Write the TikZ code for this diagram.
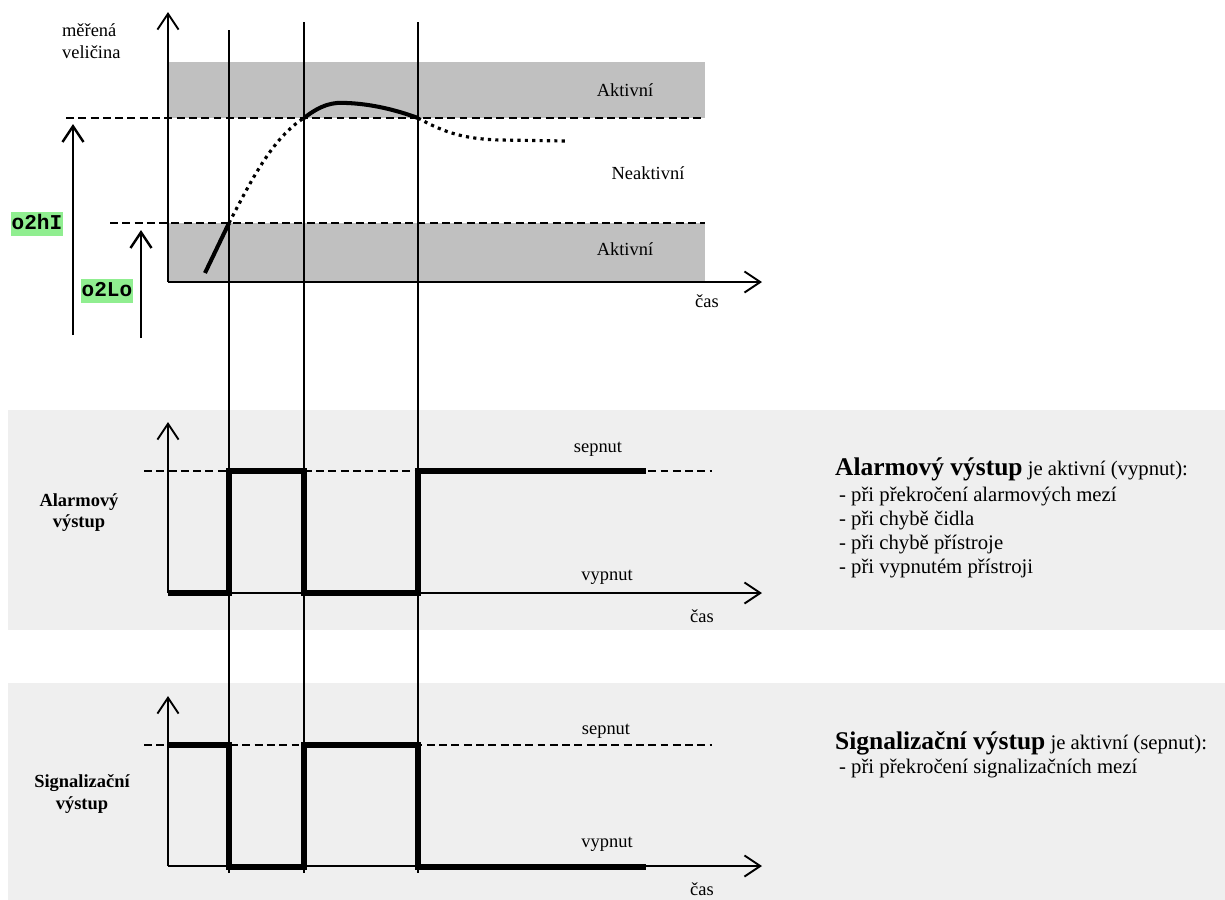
\documentclass[tikz,border=0pt]{standalone}
\usepackage{fontspec}
\setmainfont{Liberation Serif}
\setmonofont{Liberation Mono}
\usetikzlibrary{arrows.meta}
\definecolor{limitgreen}{RGB}{144,238,144}
\definecolor{bandgray}{RGB}{192,192,192}
\definecolor{panelgray}{RGB}{239,239,239}
\tikzset{%
  timeaxis/.style  = {line width=1.1pt,%
                      -{Straight Barb[length=9pt,width=12pt]}},%
  limitarrow/.style= {line width=1.4pt,%
                      -{Straight Barb[length=9pt,width=12pt]}},%
  limitline/.style = {line width=0.7pt, dash pattern=on 4.5pt off 2.5pt},%
  marker/.style    = {line width=0.6pt},%
  outsignal/.style = {line width=3pt, line join=miter},%
  curve/.style     = {line width=2.3pt},%
  trend/.style     = {line width=1.8pt, dash pattern=on 1.8pt off 2.4pt},%
  limitname/.style = {fill=limitgreen, inner xsep=0.5pt, inner ysep=1pt,%
                      text height=9pt, text depth=3pt,%
                      font=\ttfamily\bfseries\fontsize{12}{12}\selectfont},%
  outname/.style   = {align=center, font=\bfseries\fontsize{10.5}{12}\selectfont},%
  headline/.style  = {anchor=base west, font=\fontsize{11.8}{13.6}\selectfont},%
  itemline/.style  = {anchor=base west, font=\fontsize{11.8}{13.6}\selectfont}%
}
\begin{document}
\begin{tikzpicture}[x=0.02cm,y=-0.02cm,
	every node/.style = {font=\fontsize{10.5}{12.5}\selectfont, inner sep=1pt}]
	\useasboundingbox (0,0) rectangle (1225,900);
	\fill[panelgray] (8,410) rectangle (1225,630);
	\fill[panelgray] (8,683) rectangle (1225,900);
	\begin{scope}
		\fill[bandgray] (168,62) rectangle (705,118);
		\fill[bandgray] (168,223) rectangle (705,281);
		\coordinate (o1) at (168,282);
		\coordinate (hiL) at (66,118);
		\coordinate (hiR) at (705,118);
		\coordinate (loL) at (110,223);
		\coordinate (loR) at (705,223);
		\draw[limitline] (hiL) -- (hiR);
		\draw[limitline] (loL) -- (loR);
		\draw[timeaxis] (o1) -- (168,12);
		\draw[timeaxis] (o1) -- (762,282);
		\node (act1) at (625,90) {Aktivní};
		\node (act2) at (625,249) {Aktivní};
		\node (neakt) at (648,173) {Neaktivní};
		\node[anchor=west, align=left] (qty) at (60,41) {měřená\\veličina};
		\node (cas1) at (707,301) {čas};
		\node[limitname] (hiname) at (37,224) {o2hI};
		\node[limitname] (loname) at (107,291) {o2Lo};
		\draw[limitarrow] (73,335) -- (73,124);
		\draw[limitarrow] (141,338) -- (141,230);
		\coordinate (up) at (229,223);
		\coordinate (in) at (304,118);
		\coordinate (out) at (418,118);
		\draw[curve] (205,273) -- (up);
		\draw[trend] (up) .. controls (250,183) and (272,138) .. (in);
		\draw[curve] (in) .. controls (322,104) and (334,102) .. (347,103)
			.. controls (372,104) and (396,110) .. (out);
		\draw[trend] (out) .. controls (445,133) and (465,139) .. (500,140) -- (567,141);
	\end{scope}
	\foreach \x/\t in {229/30,304/22,418/22}
		\draw[marker] (\x,\t) -- (\x,873);
	\begin{scope}
		\coordinate (o2) at (168,593);
		\draw[limitline] (144,471) -- (712,471);
		\draw[timeaxis] (o2) -- (168,422);
		\draw[timeaxis] (o2) -- (762,593);
		\draw[outsignal] (o2) -- (229,593) -- (229,471) -- (304,471) -- (304,593)
			-- (418,593) -- (418,471) -- (646,471);
		\node (sep2) at (598,449) {sepnut};
		\node (vyp2) at (607,577) {vypnut};
		\node (cas2) at (702,616) {čas};
		\node[outname] (alarm) at (79,513) {Alarmový\\výstup};
	\end{scope}
	\begin{scope}
		\coordinate (o3) at (168,866);
		\draw[limitline] (144,745) -- (712,745);
		\draw[timeaxis] (o3) -- (168,696);
		\draw[timeaxis] (o3) -- (762,866);
		\draw[outsignal] (168,745) -- (229,745) -- (229,867) -- (304,867) -- (304,745)
			-- (418,745) -- (418,867) -- (646,867);
		\node (sep3) at (606,731) {sepnut};
		\node (vyp3) at (607,844) {vypnut};
		\node (cas3) at (702,889) {čas};
		\node[outname] (signal) at (82,794) {Signalizační\\výstup};
	\end{scope}
	\node[headline] (alarmhead) at (833,475)
		{{\fontsize{14.5}{16}\selectfont\bfseries Alarmový výstup} je aktivní (vypnut):};
	\foreach \txt [count=\i] in {při překročení alarmových mezí, při chybě čidla,
		při chybě přístroje, při vypnutém přístroji}
		\node[itemline] (alarm\i) at (837,477+24*\i) {- \txt};
	\node[headline] (signalhead) at (833,749)
		{{\fontsize{14.5}{16}\selectfont\bfseries Signalizační výstup} je aktivní (sepnut):};
	\node[itemline] (signal1) at (837,773) {- při překročení signalizačních mezí};
\end{tikzpicture}
\end{document}
